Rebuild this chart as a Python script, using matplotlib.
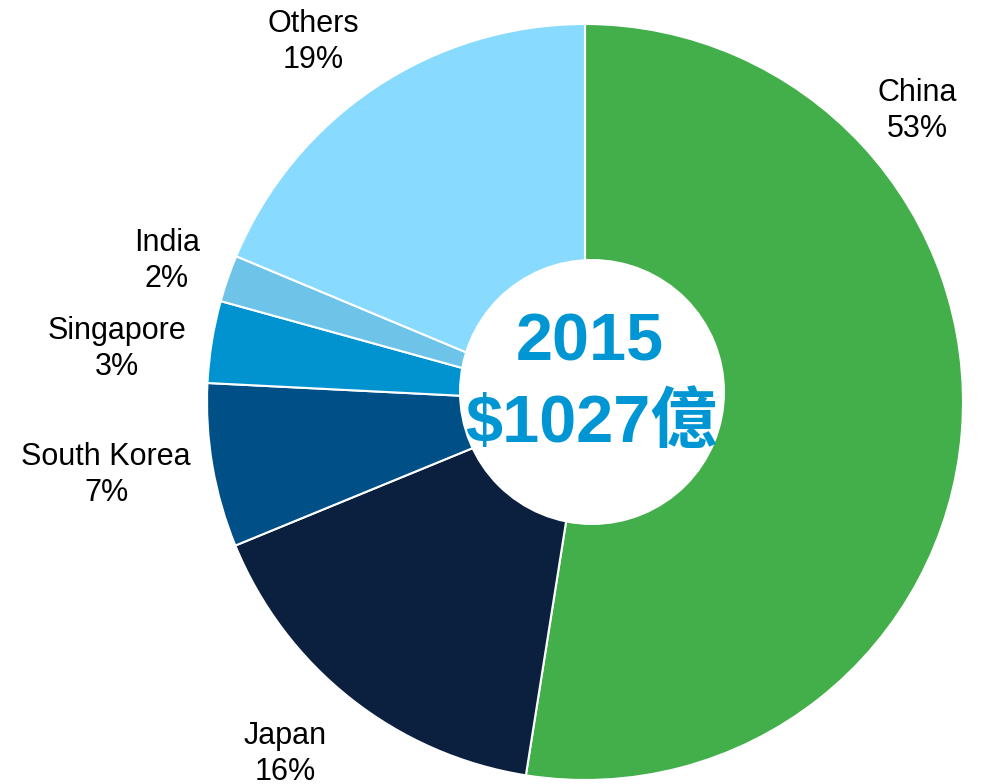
import matplotlib
matplotlib.use("Agg")
import matplotlib.pyplot as plt
from matplotlib.patches import Circle

categories = ["China", "Japan", "South Korea", "Singapore", "India", "Others"]
shares = [52.5, 16.3, 7.0, 3.5, 2.0, 18.7]
pct_labels = ["53%", "16%", "7%", "3%", "2%", "19%"]
colors = ["#43AF4A", "#0B1F3F", "#004F86", "#0093D0", "#6EC4E8", "#88DBFF"]
year = "2015"
total = "$1027億"

W, H = 981, 784
fig = plt.figure(figsize=(W / 100, H / 100), dpi=100)
ax = fig.add_axes([0, 0, 1, 1])

def py(y):
    return H - y

ax.pie(shares, colors=colors, startangle=90, counterclock=False,
       center=(585, py(402)), radius=378, frame=True,
       wedgeprops=dict(edgecolor="white", linewidth=1.5))
ax.set_xlim(0, W)
ax.set_ylim(0, H)
ax.set_aspect("equal")
ax.axis("off")

ax.add_patch(Circle((592, py(392)), 133, facecolor="white", edgecolor="none", zorder=5))

fam = ["Liberation Sans", "DejaVu Sans"]
label_pos = {
    "China": (917, 111),
    "Japan": (285, 754),
    "South Korea": (106, 475),
    "Singapore": (117, 349),
    "India": (167, 261),
    "Others": (313, 42),
}
for cat, lab in zip(categories, pct_labels):
    x, y = label_pos[cat]
    ax.text(x, py(y), f"{cat}\n{lab}", ha="center", va="center", fontsize=22,
            family=fam, linespacing=1.3, color="#000000", zorder=6)

blue = "#0096D3"
cfam = ["Liberation Sans", "Noto Sans CJK TC", "DejaVu Sans"]
ax.text(590, py(343), year, ha="center", va="center", fontsize=48, fontweight="bold",
        family=cfam, color=blue, zorder=7)
ax.text(591, py(425), total, ha="center", va="center", fontsize=48, fontweight="bold",
        family=cfam, color=blue, zorder=7)

fig.savefig("out.png", dpi=100, facecolor="white")
